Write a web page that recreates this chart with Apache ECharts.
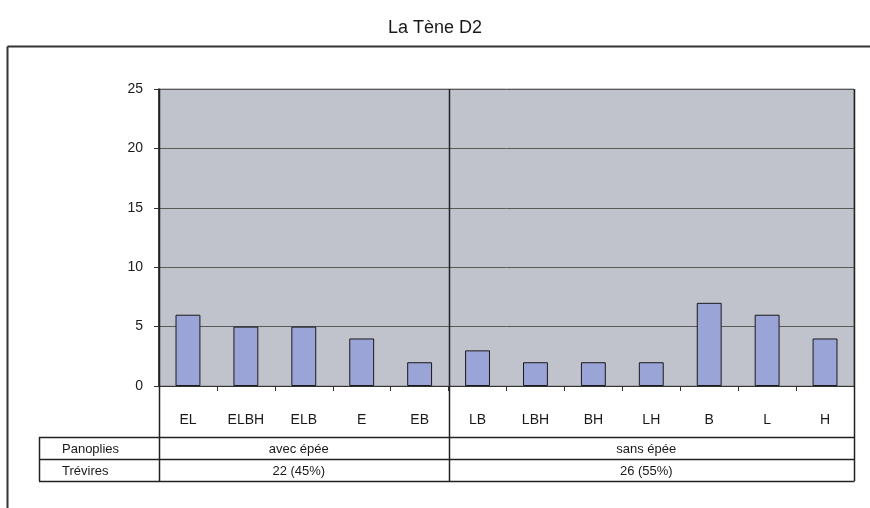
<!DOCTYPE html>
<html>
<head>
<meta charset="utf-8">
<title>La Tène D2</title>
<script src="https://cdn.jsdelivr.net/npm/echarts@6/dist/echarts.min.js"></script>
<style>
  html, body { margin: 0; padding: 0; background: #fff; }
  #chart { width: 870px; height: 508px; }
</style>
</head>
<body>
<div id="chart"></div>
<script>
// data
const categories = ['EL', 'ELBH', 'ELB', 'E', 'EB', 'LB', 'LBH', 'BH', 'LH', 'B', 'L', 'H'];
const counts = [6, 5, 5, 4, 2, 3, 2, 2, 2, 7, 6, 4];
const groupNames = ['avec épée', 'sans épée'];
const groupSizes = [5, 7];
const groupTotals = ['22 (45%)', '26 (55%)'];
const rowHeaders = ['Panoplies', 'Trévires'];

const FONT = '"Liberation Sans", Arial, sans-serif';
const grid = { left: 159, right: 16, top: 89, bottom: 122 };

const chart = echarts.init(document.getElementById('chart'), null, { renderer: 'canvas' });

chart.setOption({
  animation: false,
  title: {
    text: 'La Tène D2',
    left: 'center',
    top: 14,
    textStyle: { fontFamily: FONT, fontSize: 18, fontWeight: 'normal', color: '#1a1a1a' }
  },
  grid: {
    left: grid.left,
    right: grid.right,
    top: grid.top,
    bottom: grid.bottom,
    show: true,
    backgroundColor: '#c0c3cc',
    borderColor: '#8a8a8a',
    borderWidth: 1
  },
  xAxis: {
    type: 'category',
    data: categories,
    axisLine: { lineStyle: { color: '#333', width: 1 } },
    axisTick: { show: true, length: 5, lineStyle: { color: '#333' } },
    axisLabel: { margin: 27, fontFamily: FONT, fontSize: 14, color: '#1a1a1a' }
  },
  yAxis: {
    type: 'value',
    min: 0,
    max: 25,
    interval: 5,
    axisLine: { show: true, lineStyle: { color: '#222', width: 1.5 } },
    axisTick: { show: true, length: 5, lineStyle: { color: '#333' } },
    axisLabel: { margin: 16, fontFamily: FONT, fontSize: 14, color: '#1a1a1a' },
    splitLine: { lineStyle: { color: '#5a5a5a', width: 1 } }
  },
  series: [{
    type: 'bar',
    data: counts,
    barWidth: '43%',
    itemStyle: { color: '#9aa4d6', borderColor: '#1a1a1a', borderWidth: 1 }
  }]
});

// table, frame and group divider, placed from the axes
function buildTable() {
  const W = 870, H = 508;
  const x0 = chart.convertToPixel({ xAxisIndex: 0 }, 0);
  const band = chart.convertToPixel({ xAxisIndex: 0 }, 1) - x0;
  const plotLeft = grid.left;
  const plotRight = W - grid.right;
  const plotTop = grid.top;
  const tableLeft = 39;
  const rowTop = 437;
  const rowH = 22;
  const tableBottom = rowTop + 2 * rowH;

  const line = (x1, y1, x2, y2, w, c) => ({
    type: 'line',
    shape: { x1, y1, x2, y2 },
    style: { stroke: c || '#222', lineWidth: w || 1 },
    z: 10
  });
  const text = (x, y, t, align) => ({
    type: 'text',
    x, y,
    style: {
      text: t, fontFamily: FONT, fontSize: 13, fill: '#1a1a1a',
      align: align || 'center', verticalAlign: 'middle'
    },
    z: 11
  });

  const els = [];
  // outer frame (top and left edges)
  els.push(line(7.5, 46.5, W, 46.5, 2, '#333'));
  els.push(line(7.5, 46.5, 7.5, H, 2, '#333'));

  // vertical lines: axis extension, group divider, right border
  const boundaries = [plotLeft];
  let acc = 0;
  groupSizes.forEach(n => {
    acc += n;
    boundaries.push(x0 - band / 2 + acc * band);
  });
  boundaries[boundaries.length - 1] = plotRight;
  boundaries.forEach(bx => {
    els.push(line(Math.round(bx) + 0.5, plotTop, Math.round(bx) + 0.5, tableBottom, 1.5, '#222'));
  });

  // table horizontals
  [rowTop, rowTop + rowH, tableBottom].forEach(y => {
    els.push(line(tableLeft, y + 0.5, plotRight + 0.5, y + 0.5, 1.5, '#222'));
  });
  els.push(line(tableLeft + 0.5, rowTop, tableLeft + 0.5, tableBottom, 1.5, '#222'));

  // row headers
  rowHeaders.forEach((t, r) => {
    els.push(text(62, rowTop + rowH * r + rowH / 2 + 1, t, 'left'));
  });
  // group cells
  groupNames.forEach((g, i) => {
    const cx = (boundaries[i] + boundaries[i + 1]) / 2 - 5;
    els.push(text(cx, rowTop + rowH / 2 + 1, g));
    els.push(text(cx, rowTop + rowH * 1.5 + 1, groupTotals[i]));
  });

  chart.setOption({ graphic: { elements: els } });
}
buildTable();
</script>
</body>
</html>
